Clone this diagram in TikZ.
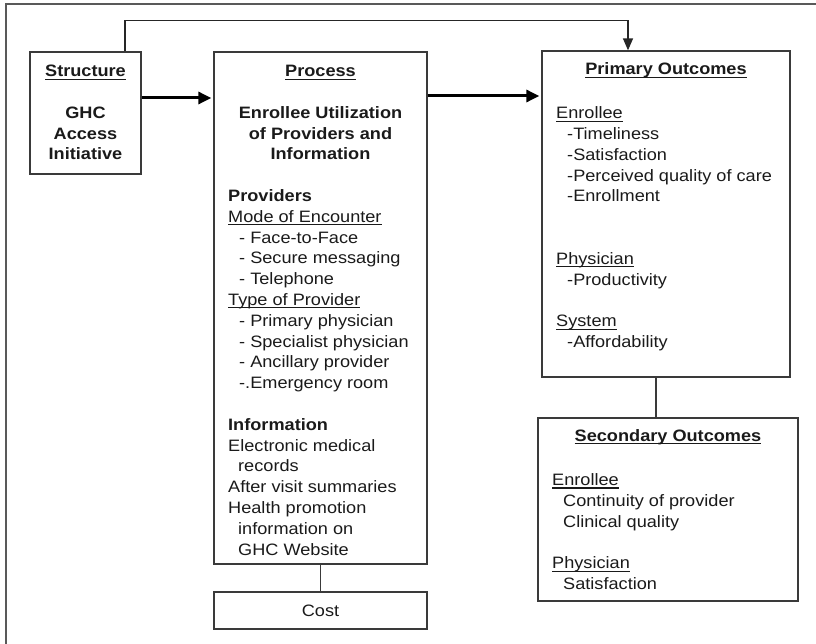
\documentclass[tikz,border=0pt]{standalone}
\usepackage{fontspec}
\setmainfont{Liberation Sans}[FakeStretch=1.1]
\usetikzlibrary{arrows.meta}
\newsavebox\ulbox
\newcommand\ulin[1]{\sbox\ulbox{#1}\rlap{\rule[-3pt]{\wd\ulbox}{1.2pt}}\usebox\ulbox}
\newcommand\ind{\hspace*{11pt}}
\definecolor{boxline}{HTML}{3A3A3A}
\definecolor{txtcol}{HTML}{1A1A1A}
\tikzset{
  txt/.style={font=\fontsize{16.5}{20.8}\selectfont, text=txtcol, inner sep=0pt},
  btxt/.style={font=\fontsize{16.5}{20.8}\selectfont\bfseries, text=txtcol, inner sep=0pt},
  box/.style={draw=boxline, line width=1.3pt, rectangle, inner sep=0pt},
  bigarrow/.style={draw=black, line width=3pt, -{Triangle[length=13pt,width=12pt]}, shorten >=2pt},
  toparrow/.style={draw=black!85, line width=1.4pt, -{Triangle[length=12pt,width=10pt]}},
  plainline/.style={draw=boxline, line width=1.3pt},
  frame/.style={draw=black!65, line width=2pt}
}
\begin{document}
\begin{tikzpicture}[x=1pt,y=-1pt]
\useasboundingbox (0,0) rectangle (816,644);
\draw[frame] (6,644) -- (6,4) -- (816,4);

% boxes
\node[box, minimum width=111pt, minimum height=122pt] (struct) at (85.5,113) {};
\node[box, minimum width=213pt, minimum height=512pt] (proc) at (320.5,308) {};
\node[box, minimum width=213pt, minimum height=37pt, txt] (cost) at (320.5,610.5) {Cost};
\node[box, minimum width=248pt, minimum height=326pt] (prim) at (666,214) {};
\node[box, minimum width=260pt, minimum height=183pt] (sec) at (668,509.5) {};

% structure text (anchor = baseline of last line)
\node[btxt, anchor=base, align=center] (structtxt) at (85.5,160)
  {\ulin{Structure}\\[20.8pt] GHC\\ Access\\ Initiative};

% process text
\node[btxt, anchor=base, align=center] (prochead) at (320.5,160)
  {\ulin{Process}\\[20.8pt] Enrollee Utilization\\ of Providers and\\ Information};
\node[txt, anchor=base west, align=left] (procbody) at (228,555)
  {\textbf{Providers}\\
   \ulin{Mode of Encounter}\\
   \ind- Face-to-Face\\
   \ind- Secure messaging\\
   \ind- Telephone\\
   \ulin{Type of Provider}\\
   \ind- Primary physician\\
   \ind- Specialist physician\\
   \ind- Ancillary provider\\
   \ind-.Emergency room\\[20.8pt]
   \textbf{Information}\\
   Electronic medical\\
   \hspace*{10pt}records\\
   After visit summaries\\
   Health promotion\\
   \hspace*{10pt}information on\\
   \hspace*{10pt}GHC Website};

% primary outcomes text
\node[btxt, anchor=base] (primhead) at (666,75) {\ulin{Primary Outcomes}};
\node[txt, anchor=base west, align=left] (primbody) at (556,347.5)
  {\ulin{Enrollee}\\
   \ind-Timeliness\\
   \ind-Satisfaction\\
   \ind-Perceived quality of care\\
   \ind-Enrollment\\[41.6pt]
   \ulin{Physician}\\
   \ind-Productivity\\[20.8pt]
   \ulin{System}\\
   \ind-Affordability};

% secondary outcomes text
\node[btxt, anchor=base] (sechead) at (668,441) {\ulin{Secondary Outcomes}};
\node[txt, anchor=base west, align=left] (secbody) at (552,589.5)
  {\ulin{Enrollee}\\
   \ind Continuity of provider\\
   \ind Clinical quality\\[20.8pt]
   \ulin{Physician}\\
   \ind Satisfaction};

% connectors
\coordinate (a1) at ([yshift=15pt]struct.east);
\draw[bigarrow] (a1) -- (a1 -| proc.west);
\coordinate (a2) at ([yshift=212pt]proc.east);
\draw[bigarrow] (a2) -- (a2 -| prim.west);
\coordinate (t1) at ([xshift=39.5pt]struct.north);
\coordinate (t2) at ([xshift=-38pt]prim.north);
\draw[toparrow] (t1) -- ++(0,-31) -| (t2);
\draw[plainline] (proc.south) -- (cost.north);
\coordinate (c1) at ([xshift=-10pt]prim.south);
\draw[plainline] (c1) -- (c1 |- sec.north);
\end{tikzpicture}
\end{document}
